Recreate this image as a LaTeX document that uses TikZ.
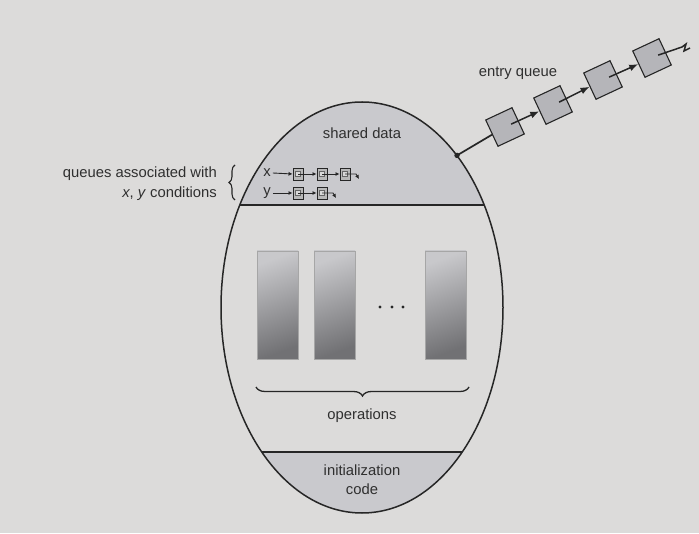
\documentclass[tikz,border=0pt]{standalone}
\usepackage{fontspec}
\setmainfont{Liberation Sans}
\usetikzlibrary{shapes.geometric,decorations.pathreplacing,arrows.meta,calc}
\definecolor{bgc}{HTML}{DCDBDA}
\definecolor{regc}{HTML}{C9C9CD}
\definecolor{linec}{HTML}{262626}
\definecolor{qboxc}{HTML}{B5B5B9}
\definecolor{txtc}{HTML}{2F2F2F}
\definecolor{opdark}{HTML}{717174}
\definecolor{oplight}{HTML}{C8C8CB}
\begin{document}
\begin{tikzpicture}[x=1pt,y=1pt,
  lbl/.style={font=\fontsize{14.8}{17}\selectfont, text=txtc, inner sep=0pt},
  outline/.style={draw=linec, line width=1.5pt},
  opbox/.style={draw=gray!70, line width=0.6pt, minimum width=41pt, minimum height=108pt, inner sep=0pt,
     top color=oplight, bottom color=opdark, shading angle=20},
  qbox/.style={draw=linec, line width=1.1pt, fill=qboxc, minimum size=29pt, inner sep=0pt, rotate=25},
  mbox/.style={draw=linec, line width=0.9pt, fill=gray!55, minimum width=10pt, minimum height=12pt, inner sep=0pt},
  minner/.style={draw=linec!70, line width=0.4pt, fill=gray!30, minimum size=5pt, inner sep=0pt},
  qarrow/.style={draw=linec, line width=1.5pt, -{Latex[length=9pt,width=7pt]}},
  marrow/.style={draw=linec, line width=0.9pt, -{Latex[length=4pt,width=4pt]}},
  dotc/.style={fill=linec, circle, minimum size=3.4pt, inner sep=0pt}
]
\useasboundingbox (0,0) rectangle (699,533);
\fill[bgc] (0,0) rectangle (699,533);

% monitor ellipse
\node[ellipse, minimum width=282pt, minimum height=411pt, inner sep=0pt] (mon) at (362,225.5) {};
\begin{scope}
  \clip (362,225.5) ellipse [x radius=141, y radius=205.5];
  \fill[regc] (200,328) rectangle (530,450);
  \fill[regc] (200,0) rectangle (530,81);
  \draw[outline] (200,328) -- (530,328);
  \draw[outline] (200,81) -- (530,81);
\end{scope}
\draw[outline] (362,225.5) ellipse [x radius=141, y radius=205.5];

% texts
\node[lbl] (shared) at (362,400) {shared data};
\node[lbl, align=center] (init) at (362,53) {initialization\\[2pt]code};
\node[lbl] (ops) at (362,117) {operations};

% operation boxes
\node[opbox] (op1) at (277.5,228) {};
\node[opbox] (op2) at (334.5,228) {};
\node[opbox] (op3) at (445.5,228) {};
\node[dotc] (d1) at (380,226) {};
\node[dotc] (d2) at (392,226) {};
\node[dotc] (d3) at (403,226) {};
\coordinate (brL) at (256,146);
\coordinate (brR) at (469,146);
\draw[draw=linec, line width=1.3pt, decorate, decoration={brace, mirror, amplitude=9pt}] (brL) -- (brR);

% condition queues
\node[lbl, anchor=east, align=right] (qlabel) at (217,349.5) {queues associated with\\[3pt]\textit{x}, \textit{y} conditions};
\coordinate (cbB) at (235,333);
\coordinate (cbT) at (235,368);
\draw[draw=linec, line width=1.1pt, decorate, decoration={brace, amplitude=6pt}] (cbB) -- (cbT);

\node[lbl] (xl) at (267,360) {x};
\node[lbl] (yl) at (267,340) {y};
\foreach \n/\xx in {1/298,2/322,3/345} {
  \node[mbox] (xb\n) at (\xx,359) {};
  \node[minner] (xi\n) at (\xx,359) {};
}
\foreach \n/\xx in {1/298,2/322} {
  \node[mbox] (yb\n) at (\xx,340) {};
  \node[minner] (yi\n) at (\xx,340) {};
}
\draw[marrow] (xl.east) ++(2,0) -- (xb1.west);
\draw[marrow] (xi1.center) -- (xb2.west);
\draw[marrow] (xi2.center) -- (xb3.west);
\coordinate (xend) at (356,359);
\coordinate (xtail) at (359,354);
\draw[marrow] (xi3.center) -- (xend) -- (xtail);
\draw[marrow] (yl.east) ++(2,0) -- (yb1.west);
\draw[marrow] (yi1.center) -- (yb2.west);
\coordinate (yend) at (333,340);
\coordinate (ytail) at (336,335);
\draw[marrow] (yi2.center) -- (yend) -- (ytail);

% entry queue
\node[lbl] (eq) at (518,460) {entry queue};
\node[qbox] (q1) at (505,406) {};
\node[qbox] (q2) at (553,428) {};
\node[qbox] (q3) at (603,453) {};
\node[qbox] (q4) at (652,475) {};
\coordinate (md) at (mon.58.7);
\fill[linec] (md) circle (2.7pt);
\draw[draw=linec, line width=1.7pt] (md) -- (q1);
\draw[qarrow] ($(q1.center)!0.45!(q1.east)$) -- (q2);
\draw[qarrow] ($(q2.center)!0.45!(q2.east)$) -- (q3);
\draw[qarrow] ($(q3.center)!0.45!(q3.east)$) -- (q4);
\coordinate (g0) at (682,486);
\coordinate (g1) at (686,489);
\coordinate (g2) at (684,482);
\coordinate (g3) at (690,485);
\draw[draw=linec, line width=1.5pt] ($(q4.center)!0.45!(q4.east)$) -- (g0) -- (g1) -- (g2) -- (g3);
\end{tikzpicture}
\end{document}
